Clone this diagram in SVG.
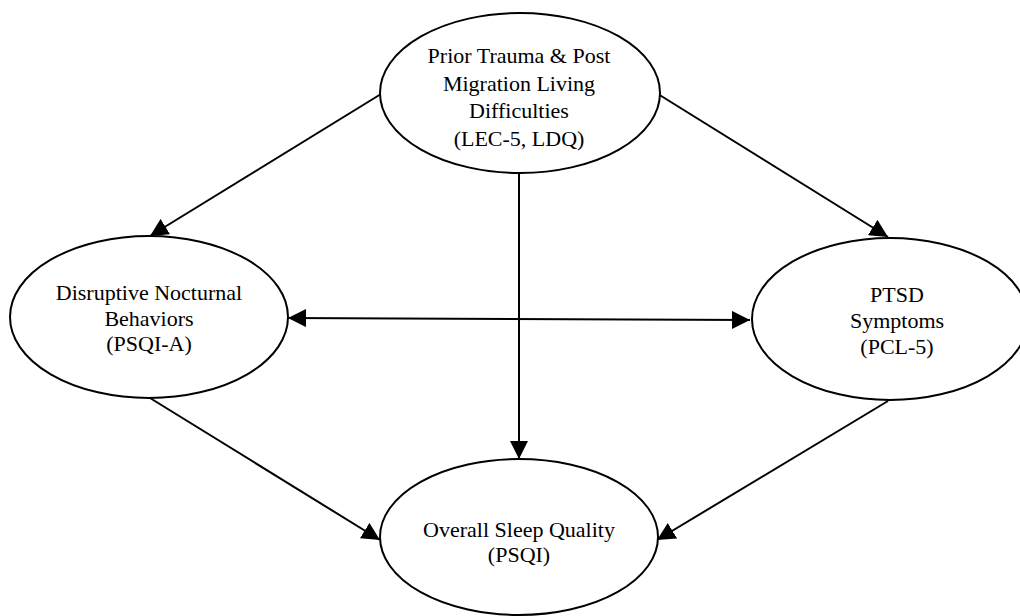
<svg xmlns="http://www.w3.org/2000/svg" width="1020" height="616" viewBox="0 0 1020 616">
  <style>
    .node ellipse { fill: #ffffff; stroke: #000000; stroke-width: 2; }
    .node text { font-family: "Liberation Serif", "Times New Roman", serif; font-size: 22px; fill: #000000; text-anchor: middle; }
    .edge { stroke: #000000; stroke-width: 2; fill: none; marker-end: url(#arrow); }
    .edge.both { marker-start: url(#arrow); }
  </style>
  <defs>
    <marker id="arrow" markerUnits="userSpaceOnUse" markerWidth="19" markerHeight="18" refX="18" refY="9" orient="auto-start-reverse" viewBox="0 0 19 18">
      <path d="M0,0 L18,9 L0,18 Z" fill="#000000"/>
    </marker>
  </defs>
  <rect x="0" y="0" width="1020" height="616" fill="#ffffff"/>
  <g id="connectors">
    <line class="edge" x1="381" y1="94" x2="150" y2="236"/>
    <line class="edge" x1="658" y1="94" x2="888" y2="237"/>
    <line class="edge" x1="519" y1="173" x2="519" y2="459"/>
    <line class="edge both" x1="288" y1="318" x2="750" y2="320"/>
    <line class="edge" x1="150" y1="398" x2="380" y2="540"/>
    <line class="edge" x1="888" y1="401" x2="657" y2="540"/>
  </g>
  <g id="node-trauma" class="node">
    <ellipse cx="520" cy="93" rx="140" ry="80"/>
    <text x="519" y="63">Prior Trauma &amp; Post</text>
    <text x="519" y="90.5">Migration Living</text>
    <text x="519" y="118">Difficulties</text>
    <text x="519" y="146">(LEC-5, LDQ)</text>
  </g>
  <g id="node-disruptive" class="node">
    <ellipse cx="149" cy="317" rx="139" ry="81"/>
    <text x="149" y="300">Disruptive Nocturnal</text>
    <text x="149" y="325.5">Behaviors</text>
    <text x="149" y="351">(PSQI-A)</text>
  </g>
  <g id="node-ptsd" class="node">
    <ellipse cx="890" cy="319" rx="138" ry="81"/>
    <text x="897" y="302">PTSD</text>
    <text x="897" y="328">Symptoms</text>
    <text x="897" y="354">(PCL-5)</text>
  </g>
  <g id="node-sleep" class="node">
    <ellipse cx="519" cy="537" rx="139" ry="78"/>
    <text x="519" y="537">Overall Sleep Quality</text>
    <text x="519" y="562">(PSQI)</text>
  </g>
</svg>
